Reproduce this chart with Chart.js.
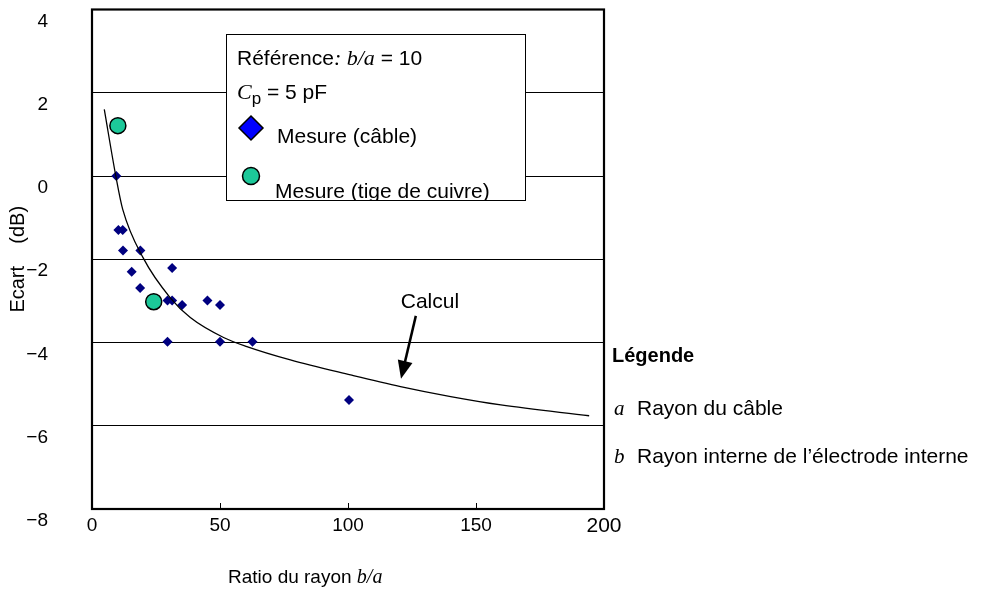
<!DOCTYPE html>
<html>
<head>
<meta charset="utf-8">
<script src="https://cdn.jsdelivr.net/npm/chart.js@4/dist/chart.umd.min.js"></script>
<style>
    html, body { margin: 0; padding: 0; background: #fff; }
    #wrap { width: 991px; height: 608px; }
</style>
</head>
<body>
<div id="wrap"><canvas id="chart-ecart" width="991" height="608"></canvas></div>
<script>
// ticks
const xTicks = [0, 50, 100, 150, 200];
const yTicks = [4, 2, 0, -2, -4, -6, -8];

// Mesure (câble)
const cableX = [9.5, 10.3, 12.0, 12.1, 18.9, 15.5, 31.3, 18.8, 29.5, 31.3, 35.2, 45.1, 50.0, 29.5, 50.0, 62.7, 100.4];
const cableY = [0.0, -1.30, -1.30, -1.79, -1.79, -2.30, -2.21, -2.69, -2.99, -2.99, -3.10, -2.99, -3.10, -3.98, -3.98, -3.98, -5.38];

// Mesure (tige de cuivre)
const rodX = [10.1, 24.1];
const rodY = [1.21, -3.02];

// Calcul
const calcX = [4.8, 9.3, 12.0, 20.1, 30.5, 38.4, 51.4, 60.5, 77.5, 101, 120.5, 140.1, 159.7, 194.2];
const calcY = [1.60, 0.0, -0.80, -1.98, -2.92, -3.40, -3.88, -4.10, -4.42, -4.78, -5.06, -5.30, -5.50, -5.76];

const SANS = '"Liberation Sans", Arial, sans-serif';
const SERIF = '"Liberation Serif", "Times New Roman", serif';

const pts = (xs, ys) => xs.map((x, i) => ({ x: x, y: ys[i] }));

// draws a run of [text, font, dx, dy] pieces left to right
function drawRuns(ctx, x, y, runs) {
    runs.forEach(r => {
        ctx.font = r[1];
        ctx.fillText(r[0], x + (r[2] || 0), y + (r[3] || 0));
        x += ctx.measureText(r[0]).width + (r[2] || 0);
    });
}

const decor = {
    id: 'decor',
    beforeDatasetsDraw(chart) {
        const ctx = chart.ctx;
        // legend box sits on top of the grid lines
        ctx.save();
        ctx.fillStyle = '#fff';
        ctx.strokeStyle = '#000';
        ctx.lineWidth = 1;
        ctx.fillRect(226, 34, 299, 166);
        ctx.strokeRect(226.5, 34.5, 299, 166);
        ctx.restore();
    },
    afterDraw(chart) {
        const ctx = chart.ctx;
        const a = chart.chartArea;
        const xs = chart.scales.x, ys = chart.scales.y;
        ctx.save();

        // frame
        ctx.strokeStyle = '#000';
        ctx.lineWidth = 2.2;
        ctx.strokeRect(a.left, a.top, a.right - a.left, a.bottom - a.top);

        // small inner ticks on the x axis
        ctx.lineWidth = 1;
        xTicks.slice(1, -1).forEach(v => {
            const px = Math.round(xs.getPixelForValue(v)) + 0.5;
            ctx.beginPath();
            ctx.moveTo(px, a.bottom);
            ctx.lineTo(px, a.bottom - 6);
            ctx.stroke();
        });

        // legend box content, clipped to the box
        ctx.save();
        ctx.beginPath();
        ctx.rect(227, 35, 298, 165);
        ctx.clip();
        ctx.fillStyle = '#000';
        ctx.textBaseline = 'alphabetic';
        drawRuns(ctx, 237, 65, [
            ['Référence', '21px ' + SANS],
            [': b/a', 'italic 22px ' + SERIF],
            [' = 10', '21px ' + SANS]
        ]);
        drawRuns(ctx, 237, 99, [
            ['C', 'italic 22px ' + SERIF],
            ['p', '17px ' + SANS, 0, 5],
            [' = 5 pF', '21px ' + SANS]
        ]);
        ctx.font = '21px ' + SANS;
        ctx.fillText('Mesure (câble)', 277, 143);
        ctx.fillText('Mesure (tige de cuivre)', 275, 198);
        // legend symbols
        ctx.lineWidth = 1.5;
        ctx.strokeStyle = '#000';
        ctx.fillStyle = '#0000ff';
        ctx.beginPath();
        ctx.moveTo(251, 116); ctx.lineTo(263, 128); ctx.lineTo(251, 140); ctx.lineTo(239, 128);
        ctx.closePath();
        ctx.fill(); ctx.stroke();
        ctx.fillStyle = '#1cc899';
        ctx.beginPath();
        ctx.arc(251, 176, 8.5, 0, Math.PI * 2);
        ctx.fill(); ctx.stroke();
        ctx.restore();

        // Calcul label + arrow
        ctx.fillStyle = '#000';
        ctx.font = '21px ' + SANS;
        ctx.textAlign = 'center';
        ctx.fillText('Calcul', xs.getPixelForValue(132), ys.getPixelForValue(-3.18));
        const tx = xs.getPixelForValue(126.5), ty = ys.getPixelForValue(-3.36);
        const hx = xs.getPixelForValue(120.7), hy = ys.getPixelForValue(-4.87);
        const ang = Math.atan2(hy - ty, hx - tx);
        ctx.strokeStyle = '#000';
        ctx.lineWidth = 2.5;
        ctx.beginPath();
        ctx.moveTo(tx, ty);
        ctx.lineTo(hx - 14 * Math.cos(ang), hy - 14 * Math.sin(ang));
        ctx.stroke();
        ctx.beginPath();
        ctx.moveTo(hx, hy);
        ctx.lineTo(hx - 18 * Math.cos(ang) + 7.5 * Math.sin(ang), hy - 18 * Math.sin(ang) - 7.5 * Math.cos(ang));
        ctx.lineTo(hx - 18 * Math.cos(ang) - 7.5 * Math.sin(ang), hy - 18 * Math.sin(ang) + 7.5 * Math.cos(ang));
        ctx.closePath();
        ctx.fill();

        // x axis title
        ctx.textAlign = 'left';
        drawRuns(ctx, 228, 583, [
            ['Ratio du rayon ', '19px ' + SANS],
            ['b/a', 'italic 20px ' + SERIF]
        ]);

        // right-hand key
        ctx.font = 'bold 20px ' + SANS;
        ctx.fillText('Légende', 612, 362);
        ctx.font = 'italic 21px ' + SERIF;
        ctx.fillText('a', 614, 415);
        ctx.fillText('b', 614, 463);
        ctx.font = '21px ' + SANS;
        ctx.fillText('Rayon du câble', 637, 415);
        ctx.fillText('Rayon interne de l\u2019électrode interne', 637, 463);
        ctx.restore();
    }
};

const ctx = document.getElementById('chart-ecart').getContext('2d');

new Chart(ctx, {
    type: 'scatter',
    data: {
        datasets: [
            {
                label: 'Calcul',
                type: 'line',
                data: pts(calcX, calcY),
                borderColor: '#000',
                borderWidth: 1.3,
                pointRadius: 0,
                fill: false,
                cubicInterpolationMode: 'monotone'
            },
            {
                label: 'Mesure (câble)',
                data: pts(cableX, cableY),
                pointStyle: 'rectRot',
                pointRadius: 5,
                backgroundColor: '#000080',
                borderColor: '#000080',
                borderWidth: 0
            },
            {
                label: 'Mesure (tige de cuivre)',
                data: pts(rodX, rodY),
                pointStyle: 'circle',
                pointRadius: 8,
                backgroundColor: '#1cc899',
                borderColor: '#000',
                borderWidth: 1.5
            }
        ]
    },
    options: {
        responsive: false,
        animation: false,
        devicePixelRatio: 1,
        layout: { padding: { top: 8, right: 387, left: 0, bottom: 0 } },
        plugins: {
            legend: { display: false },
            tooltip: { enabled: false }
        },
        scales: {
            x: {
                type: 'linear',
                min: 0,
                max: 200,
                afterBuildTicks: s => { s.ticks = xTicks.map(v => ({ value: v })); },
                afterFit: s => { s.height = 99; s.paddingLeft = 0; s.paddingRight = 0; },
                grid: { display: false },
                border: { display: false },
                ticks: {
                    color: '#000',
                    font: c => ({ family: SANS, size: c.tick && c.tick.value === 200 ? 21 : 19 }),
                    padding: -3,
                    maxRotation: 0
                }
            },
            y: {
                type: 'linear',
                min: -8,
                max: 4,
                afterBuildTicks: s => { s.ticks = yTicks.map(v => ({ value: v })); },
                afterFit: s => { s.width = 92; s.paddingTop = 0; s.paddingBottom = 0; },
                grid: {
                    color: c => (c.tick && (c.tick.value === 4 || c.tick.value === -8)) ? 'rgba(0,0,0,0)' : '#000',
                    lineWidth: 1,
                    drawTicks: false
                },
                border: { display: false },
                ticks: {
                    color: '#000',
                    font: { family: SANS, size: 19 },
                    padding: 44,
                    labelOffset: 12,
                    callback: v => v < 0 ? '\u2212' + Math.abs(v) : String(v)
                },
                title: {
                    display: true,
                    text: 'Ecart    (dB)',
                    color: '#000',
                    font: { family: SANS, size: 20 },
                    padding: { top: 6, bottom: 0 }
                }
            }
        }
    },
    plugins: [decor]
});
</script>
</body>
</html>
